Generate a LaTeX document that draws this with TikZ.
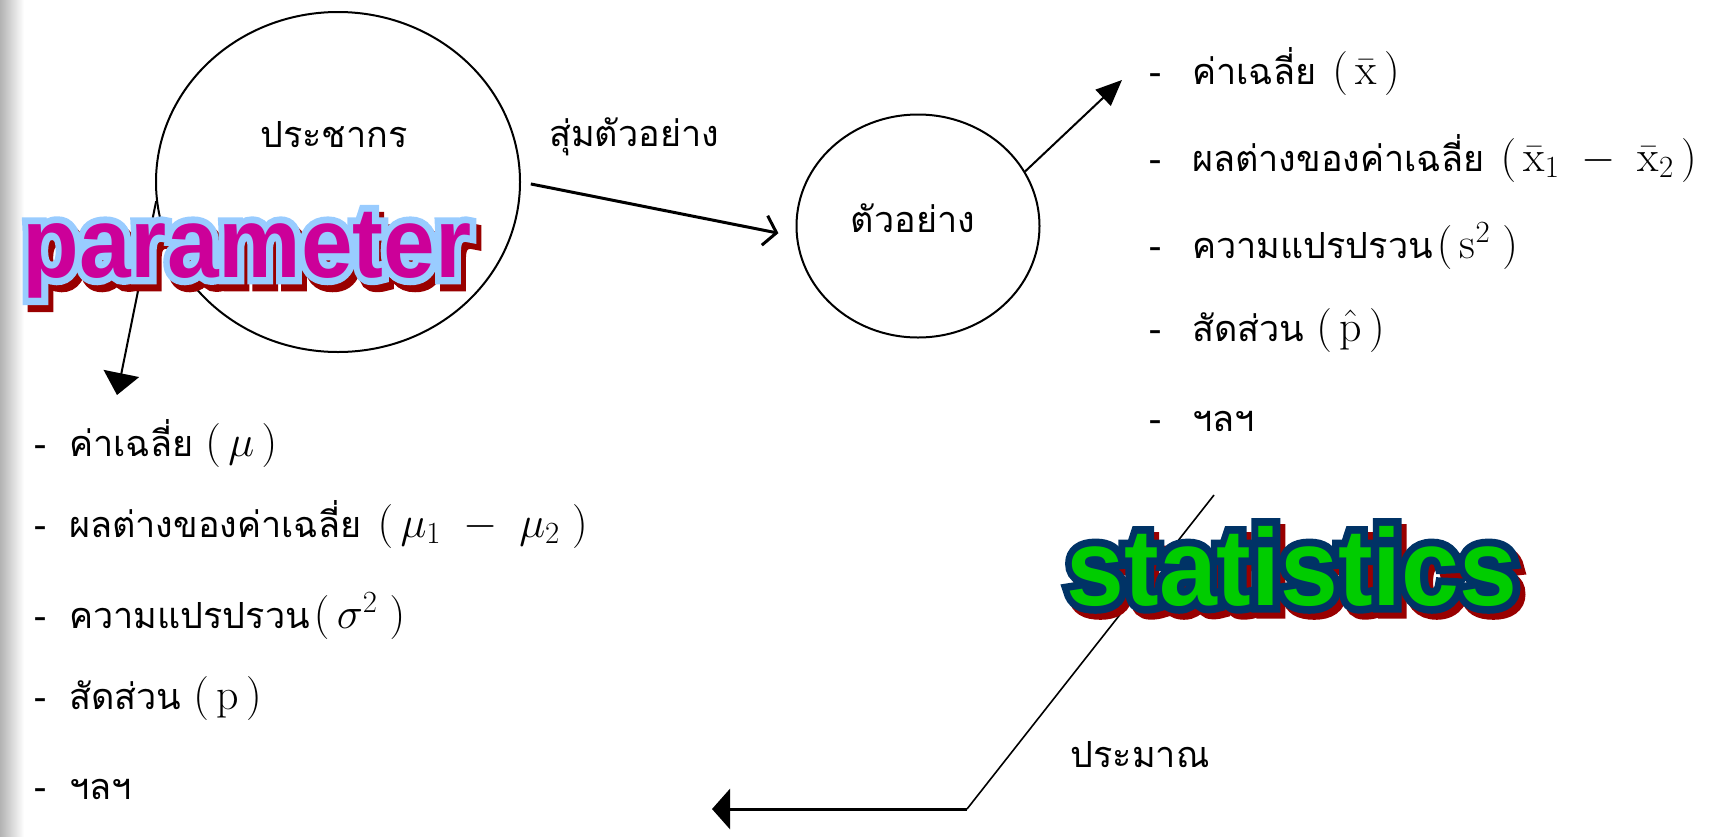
\RequirePackage{fix-cm}
\documentclass[tikz,border=0pt]{standalone}
\usepackage{fontspec}
\usepackage{graphicx}
\usepackage{xcolor}
\usetikzlibrary{positioning,arrows.meta,shapes.geometric}

\newfontfamily\thaifont[Script=Thai]{Loma}
\newfontfamily\artfill{Liberation Sans Bold}
\newfontfamily\artfat{Liberation Sans Bold}[FakeBold=14]

\definecolor{parfill}{HTML}{CC0099}
\definecolor{paredge}{HTML}{99CCFF}
\definecolor{statfill}{HTML}{00CC00}
\definecolor{statedge}{HTML}{003366}
\definecolor{artshade}{HTML}{990000}

\newcommand{\parsize}{\fontsize{80}{80}\selectfont}
\newcommand{\statsize}{\fontsize{104}{104}\selectfont}
\newcommand{\eq}[1]{{\fontsize{44}{48}\selectfont$#1$}}

\tikzset{
  blob/.style={ellipse, draw, line width=2pt, inner sep=0pt},
  thaitext/.style={font=\thaifont\fontsize{36}{42}\selectfont, inner sep=0pt, anchor=base},
  item/.style={thaitext, anchor=base west},
  link/.style={line width=2pt},
  artshadow/.style={inner sep=0pt, text=artshade, font=\artfat#1},
  artedge/.style 2 args={inner sep=0pt, text=#2, font=\artfat#1},
  artface/.style 2 args={inner sep=0pt, text=#2, font=\artfill#1},
}

\begin{document}
\begin{tikzpicture}[x=1pt, y=-1pt]
\useasboundingbox (0,0) rectangle (1710,836);
\shade[left color=black!30, right color=white] (0,0) rectangle (24,836);

% population and sample
\node[blob, minimum width=364pt, minimum height=340pt] (pop) at (338,182) {};
\node[thaitext] (popText) at (334,147) {ประชากร};
\node[blob, minimum width=243pt, minimum height=223pt] (samp) at (918,226) {};
\node[thaitext] (sampText) at (913,232) {ตัวอย่าง};
\node[thaitext] (drawText) at (634,146) {สุ่มตัวอย่าง};
\node[thaitext] (estText) at (1140,767) {ประมาณ};

% parameter list
\node[item] (par1) at (34,456) {\makebox[35pt][l]{-}ค่าเฉลี่ย\hspace{12pt}\eq{(\,\mu\,)}};
\node[item] (par2) at (34,537) {\makebox[35pt][l]{-}ผลต่างของค่าเฉลี่ย\hspace{16pt}\eq{(\,\mu_1 \;-\; \mu_2\;)}};
\node[item] (par3) at (34,628) {\makebox[35pt][l]{-}ความแปรปรวน\hspace{4pt}\eq{(\,\sigma^2\;)}};
\node[item] (par4) at (34,709) {\makebox[35pt][l]{-}สัดส่วน\hspace{12pt}\eq{(\,\mathrm{p}\,)}};
\node[item] (par5) at (34,799) {\makebox[35pt][l]{-}ฯลฯ};

% statistics list
\node[item] (stat1) at (1149,84) {\makebox[43pt][l]{-}ค่าเฉลี่ย\hspace{16pt}\eq{(\,\bar{\mathrm{x}}\,)}};
\node[item] (stat2) at (1149,171) {\makebox[43pt][l]{-}ผลต่างของค่าเฉลี่ย\hspace{16pt}\eq{(\,\bar{\mathrm{x}}_1 \;-\; \bar{\mathrm{x}}_2\,)}};
\node[item] (stat3) at (1149,258) {\makebox[43pt][l]{-}ความแปรปรวน\hspace{4pt}\eq{(\,\mathrm{s}^2\;)}};
\node[item] (stat4) at (1149,341) {\makebox[43pt][l]{-}สัดส่วน\hspace{12pt}\eq{(\,\hat{\mathrm{p}}\,)}};
\node[item] (stat5) at (1149,431) {\makebox[43pt][l]{-}ฯลฯ};

% connectors
\coordinate (pTip) at (117,395);
\coordinate (sTip) at (1122,80);
\coordinate (eTop) at (1214,495);
\coordinate (eBend) at (967,809);
\coordinate (eTip) at (712,809);
\draw[link, line width=3pt, -{Straight Barb[length=12pt,width=30pt]}, shorten <=10pt, shorten >=18pt] (pop.east) -- (samp.185);
\draw[link, -{Triangle[length=26pt,width=22pt]}] (samp.27) -- (sTip);
\draw[link, -{Triangle[length=22pt,width=36pt]}] (pop.186) -- (pTip);
\draw[link, line width=1.6pt] (eTop) -- (eBend);
\draw[link, line width=3pt, -{Triangle[length=18pt,width=40pt]}] (eBend) -- (eTip);

% word art labels
\node[artshadow=\parsize] (parShade) at (252,262) {\scalebox{1.16}[1.25]{parameter}};
\node[artedge={\parsize}{paredge}] (parEdge) at (247,255) {\scalebox{1.16}[1.25]{parameter}};
\node[artface={\parsize}{parfill}] (parWord) at (247,255) {\scalebox{1.16}[1.25]{parameter}};
\node[artshadow=\statsize] (statShade) at (1297,572) {\scalebox{1.0}[1.05]{statistics}};
\node[artedge={\statsize}{statedge}] (statEdge) at (1292,566) {\scalebox{1.0}[1.05]{statistics}};
\node[artface={\statsize}{statfill}] (statWord) at (1292,566) {\scalebox{1.0}[1.05]{statistics}};
\end{tikzpicture}
\end{document}
